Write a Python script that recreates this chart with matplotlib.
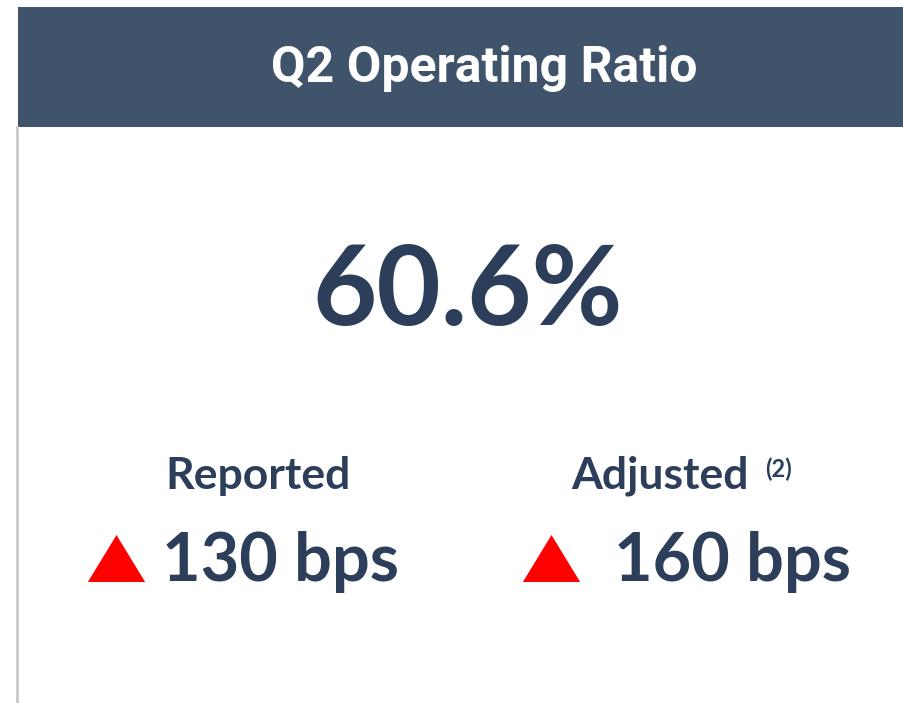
import matplotlib.pyplot as plt
from matplotlib.patches import Rectangle

title = "Q2 Operating Ratio"
headline = "60.6%"
labels = ["Reported", "Adjusted"]
label_notes = ["", "(2)"]
changes = ["130 bps", "160 bps"]

NAVY = "#3f536b"
TEXT = "#2c3e5a"
W, H = 904, 703

fig = plt.figure(figsize=(W / 100, H / 100), dpi=100)
ax = fig.add_axes([0, 0, 1, 1])
ax.set_xlim(0, W)
ax.set_ylim(H, 0)
ax.axis("off")

# header band + left border
ax.add_patch(Rectangle((18, 7), W - 18, 120, color=NAVY, lw=0))
ax.plot([17, 17], [127, H], color="#c8c8c8", lw=2)

ax.text(484, 68, title, color="white", fontsize=36, fontweight="bold",
        family="Roboto", ha="center", va="center")

ax.text(468, 293, headline, color=TEXT, fontsize=80, fontweight="bold",
        family="Lato", ha="center", va="center")

# flat up-triangle (wider than tall)
tri = [(0, 0.82), (-1, -0.82), (1, -0.82), (0, 0.82)]

label_x = [258, 660]
tri_x = [116, 551]
val_x = [281, 733]
for i, lab in enumerate(labels):
    ax.text(label_x[i], 476, lab, color=TEXT, fontsize=32, fontweight="bold",
            family="Lato", ha="center", va="center")
    if label_notes[i]:
        ax.text(765, 469, label_notes[i], color=TEXT, fontsize=17,
                fontweight="bold", family="Lato", ha="left", va="center")
    ax.scatter(tri_x[i], 558, marker=tri, s=1700, color="red", lw=0)
    ax.text(val_x[i], 562, changes[i], color=TEXT, fontsize=48,
            fontweight="bold", family="Lato", ha="center", va="center")

fig.savefig("out.png", dpi=100)
